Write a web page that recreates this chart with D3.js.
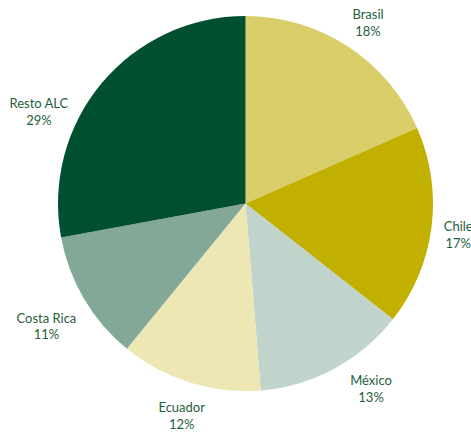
<!DOCTYPE html>
<html>
<head>
<meta charset="utf-8">
<script src="https://cdn.jsdelivr.net/npm/d3@7"></script>
<style>
  html, body { margin: 0; padding: 0; background: #ffffff; }
  svg { display: block; }
</style>
</head>
<body>
<svg id="chart" width="471" height="432"></svg>
<script>
// Data
const categories = ["Brasil", "Chile", "México", "Ecuador", "Costa Rica", "Resto ALC"];
const shares = [18.4, 17.2, 13.1, 12.2, 11.2, 27.9];
const pctLabels = ["18%", "17%", "13%", "12%", "11%", "29%"];
const colors = ["#D9CE6A", "#C1B000", "#C0D4CB", "#EDE7B4", "#84A898", "#005030"];

// Layout (label placement as polar angle in degrees / radius)
const labelAngles = [34.2, 98.4, 145.9, 196.7, 238.3, 293.9];
const labelRadii = [218, 215, 224, 222, 234, 226];

const svg = d3.select("#chart");
const cx = 245.5, cy = 203.5, radius = 187.5;

const pie = d3.pie().sort(null).value(d => d.value);
const arc = d3.arc().innerRadius(0).outerRadius(radius);

const data = categories.map((c, i) => ({ name: c, value: shares[i], pct: pctLabels[i], color: colors[i], i }));

const g = svg.append("g").attr("transform", `translate(${cx},${cy})`);

g.selectAll("path")
  .data(pie(data))
  .join("path")
  .attr("d", arc)
  .attr("fill", d => d.data.color);

const labels = g.selectAll("g.label")
  .data(data)
  .join("g")
  .attr("class", "label")
  .attr("transform", d => {
    const a = labelAngles[d.i] * Math.PI / 180;
    const r = labelRadii[d.i];
    return `translate(${r * Math.sin(a)},${-r * Math.cos(a)})`;
  });

labels.append("text")
  .attr("text-anchor", "middle")
  .attr("y", -8.3)
  .attr("dy", "0.35em")
  .attr("font-family", "Lato, 'Open Sans', sans-serif")
  .attr("font-size", 13)
  .attr("fill", "#1F5E3C")
  .text(d => d.name);

labels.append("text")
  .attr("text-anchor", "middle")
  .attr("y", 8.3)
  .attr("dy", "0.35em")
  .attr("font-family", "Lato, 'Open Sans', sans-serif")
  .attr("font-size", 13)
  .attr("fill", "#1F5E3C")
  .text(d => d.pct);
</script>
</body>
</html>
